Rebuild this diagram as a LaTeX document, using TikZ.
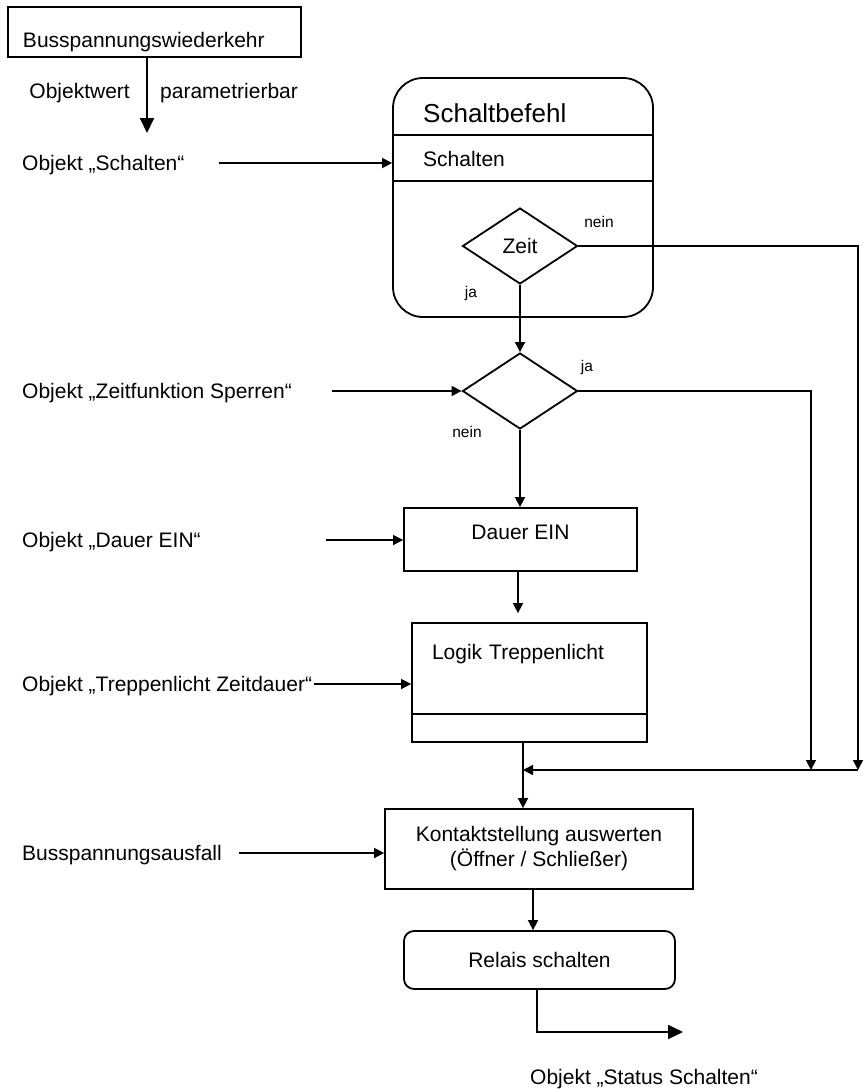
\documentclass[tikz,border=0pt]{standalone}
\usepackage{fontspec}
\setmainfont{Liberation Sans}
\usepackage{tikz}
\usetikzlibrary{shapes.geometric, arrows.meta, positioning, calc}

\begin{document}
\begin{tikzpicture}[
    x=1pt, y=-1pt,
    txt/.style={font=\fontsize{21}{25}\selectfont, inner sep=0pt, text height=15pt, text depth=0pt},
    small/.style={font=\fontsize{15.5}{18}\selectfont, inner sep=0pt, text height=11pt, text depth=0pt},
    box/.style={rectangle, draw, line width=1.8pt, font=\fontsize{21}{25}\selectfont, inner sep=0pt},
    decision/.style={diamond, draw, line width=1.8pt, font=\fontsize{21}{25}\selectfont, inner sep=0pt, minimum width=115pt, minimum height=76pt},
    flow/.style={line width=1.6pt, -{Triangle[length=10pt, width=10pt]}},
    bigflow/.style={line width=1.8pt, -{Triangle[length=15pt, width=14pt]}}
]
\useasboundingbox (0,0) rectangle (866,1090);

\node [box, minimum width=293pt, minimum height=50pt, text width=263pt, inner xsep=15pt, align=left, text height=31pt, text depth=0pt] (wiederkehr) at (154.5,32) {Busspannungswiederkehr};
\node [txt, anchor=east] (objektwert) at (130,91) {Objektwert};
\node [txt, anchor=west] (parametrierbar) at (160,91) {parametrierbar};
\coordinate (wertziel) at (147,133);

\node [box, rounded corners=30pt, minimum width=260pt, minimum height=239pt] (befehl) at (523,197.5) {};
\node [txt, anchor=west, font=\fontsize{26}{30}\selectfont, text height=18.6pt] (befehltitel) at (423,113) {Schaltbefehl};
\node [txt, anchor=west] (befehlschalten) at (423,159) {Schalten};
\node [decision] (zeit) at (520,246) {Zeit};
\node [small] (zeitnein) at (599,222) {nein};
\node [small] (zeitja) at (471,292) {ja};

\node [decision] (sperren) at (520,391) {};
\node [small] (sperrenja) at (587,366) {ja};
\node [small] (sperrennein) at (467,432) {nein};

\node [box, minimum width=233pt, minimum height=63pt, text height=15pt, text depth=15pt] (dauer) at (520.5,539.5) {Dauer EIN};
\node [box, minimum width=235pt, minimum height=119pt, text width=195pt, inner xsep=20pt, align=left, text height=15pt, text depth=61pt] (logik) at (529.5,682.5) {Logik Treppenlicht};
\node [box, minimum width=308pt, minimum height=80pt, align=center] (kontakt) at (539,849) {Kontaktstellung auswerten\\(Öffner / Schließer)};
\node [box, rounded corners=10pt, minimum width=271pt, minimum height=58pt] (relais) at (539.5,960) {Relais schalten};

\node [txt, anchor=west] (inschalten) at (22,163) {Objekt „Schalten“};
\node [txt, anchor=west] (insperren) at (22,391) {Objekt „Zeitfunktion Sperren“};
\node [txt, anchor=west] (indauer) at (22,540) {Objekt „Dauer EIN“};
\node [txt, anchor=west] (intreppe) at (22,684) {Objekt „Treppenlicht Zeitdauer“};
\node [txt, anchor=west] (inausfall) at (22,853) {Busspannungsausfall};
\node [txt] (status) at (644,1077) {Objekt „Status Schalten“};

\coordinate (rechtsnein) at (858,770);
\coordinate (rechtsja) at (811,770);
\coordinate (sammel) at (523,770);
\coordinate (statusziel) at (683,1032);

\draw [line width=1.8pt] ([yshift=-58pt]befehl.north west) -- ([yshift=-58pt]befehl.north east);
\draw [line width=1.8pt] ([yshift=-104pt]befehl.north west) -- ([yshift=-104pt]befehl.north east);
\draw [line width=1.8pt] ([yshift=29pt]logik.south west) -- ([yshift=29pt]logik.south east);

\draw [bigflow] (wiederkehr.south -| wertziel) -- (wertziel);
\draw [flow] ([xshift=34pt]inschalten.east) -- (inschalten -| befehl.west);
\draw [flow] (zeit.east) -| (rechtsnein);
\draw [flow] (zeit.south) -- (sperren.north);
\draw [flow] ([xshift=40pt]insperren.east) -- (sperren.west);
\draw [flow] (sperren.east) -| (rechtsja);
\draw [flow] (sperren.south) -- (dauer.north -| sperren.south);
\draw [flow] ([xshift=-2.5pt]dauer.south) -- ($(dauer.south |- logik.north)+(-2.5,-9)$);
\draw [flow] ([xshift=125pt]indauer.east) -- (indauer -| dauer.west);
\draw [flow] ([xshift=2pt]intreppe.east) -- (intreppe -| logik.west);
\draw [flow] (rechtsnein) -- (sammel);
\draw [flow] (logik.south -| sammel) -- (kontakt.north -| sammel);
\draw [flow] ([xshift=17pt]inausfall.east) -- (inausfall -| kontakt.west);
\draw [flow] ([xshift=-6pt]kontakt.south) -- ([xshift=-6pt]kontakt.south |- relais.north);
\draw [bigflow] ([xshift=-2.5pt]relais.south) |- (statusziel);
\end{tikzpicture}
\end{document}
